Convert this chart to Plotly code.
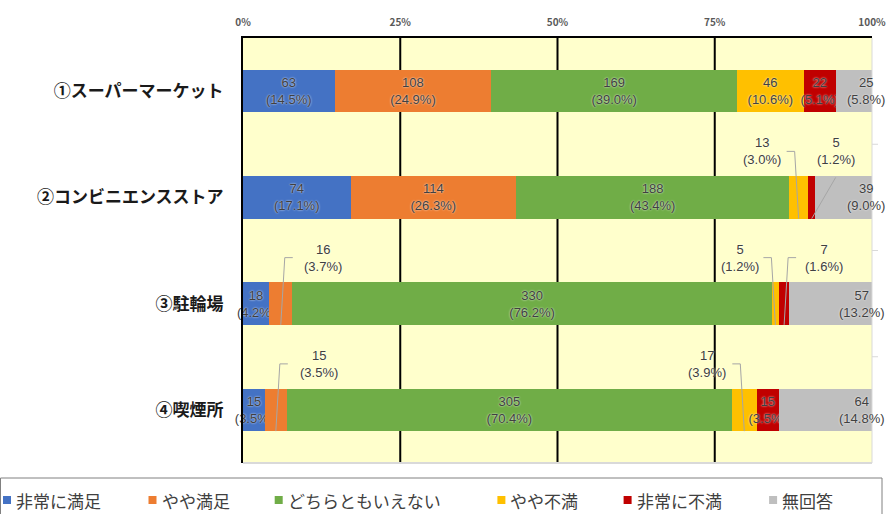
import plotly.graph_objects as go

# ---- data -------------------------------------------------------------
categories = ["①スーパーマーケット", "②コンビニエンスストア", "③駐輪場", "④喫煙所"]
series_names = ["非常に満足", "やや満足", "どちらともいえない", "やや不満", "非常に不満", "無回答"]
colors = ["#4472C4", "#ED7D31", "#70AD47", "#FFC000", "#C00000", "#BFBFBF"]

very_satisfied = [63, 74, 18, 15]
somewhat_satisfied = [108, 114, 16, 15]
neutral = [169, 188, 330, 305]
somewhat_dissatisfied = [46, 13, 5, 17]
very_dissatisfied = [22, 5, 7, 15]
no_answer = [25, 39, 57, 64]

pct_very_satisfied = [14.5, 17.1, 4.2, 3.5]
pct_somewhat_satisfied = [24.9, 26.3, 3.7, 3.5]
pct_neutral = [39.0, 43.4, 76.2, 70.4]
pct_somewhat_dissatisfied = [10.6, 3.0, 1.2, 3.9]
pct_very_dissatisfied = [5.1, 1.2, 1.6, 3.5]
pct_no_answer = [5.8, 9.0, 13.2, 14.8]

tick_vals = [0, 25, 50, 75, 100]
tick_text = ["0%", "25%", "50%", "75%", "100%"]

counts = [very_satisfied, somewhat_satisfied, neutral,
          somewhat_dissatisfied, very_dissatisfied, no_answer]
pcts = [pct_very_satisfied, pct_somewhat_satisfied, pct_neutral,
        pct_somewhat_dissatisfied, pct_very_dissatisfied, pct_no_answer]

# segments whose labels sit above the bar: (row, series, horizontal offset px, leader style)
callouts = [
    (1, 3, -37, "elbow"),
    (1, 4, 24, "diag"),
    (2, 1, 42, "elbow"),
    (2, 3, -35, "elbow"),
    (2, 4, 40, "elbow"),
    (3, 1, 43, "elbow"),
    (3, 3, -37, "elbow"),
]

# ---- geometry ---------------------------------------------------------
W, H = 888, 514
M_L, M_R, M_T, M_B = 243, 16, 38, 51
plot_w = W - M_L - M_R
plot_h = H - M_T - M_B
px_x = plot_w / 100.0               # pixels per percent
px_y = plot_h / len(categories)     # pixels per category
BAR_W = 0.4


def paper_x(px):
    return (px - M_L) / plot_w


def paper_y(py):
    return (H - M_B - py) / plot_h


label_font = dict(family="Liberation Sans, Noto Sans CJK JP",
                  size=13, color="#404040", shadow="0 0 2px #ffffff")

# cumulative shares per row
n_rows = len(categories)
totals = [sum(c[r] for c in counts) for r in range(n_rows)]
starts = [[0.0] * n_rows for _ in counts]
widths = [[0.0] * n_rows for _ in counts]
for r in range(n_rows):
    acc = 0.0
    for s, c in enumerate(counts):
        w = c[r] / totals[r] * 100
        starts[s][r] = acc
        widths[s][r] = w
        acc += w

callout_set = {(r, s) for r, s, _, _ in callouts}
last = len(counts) - 1

fig = go.Figure()
for s, (name, vals, pc, col) in enumerate(zip(series_names, counts, pcts, colors)):
    texts = []
    for r in range(n_rows):
        if (r, s) in callout_set or s == last:
            texts.append("")
        else:
            texts.append(f"{vals[r]}<br>({pc[r]:.1f}%)")
    fig.add_trace(go.Bar(
        y=categories, x=vals, orientation="h", name=name,
        marker=dict(color=col, line=dict(width=0)),
        text=texts, textposition="inside", insidetextanchor="middle",
        constraintext="none", textangle=0, textfont=label_font,
        cliponaxis=False, showlegend=False,
    ))

shapes = []
annotations = []

# vertical grid lines between the outer edges
for v in tick_vals[1:-1]:
    shapes.append(dict(type="line", xref="x", yref="paper", x0=v, x1=v, y0=0, y1=1,
                       line=dict(color="#000000", width=2), layer="below"))

# right and bottom frame in light grey, with ticks at the category boundaries
shapes.append(dict(type="line", xref="paper", yref="paper", x0=1, x1=1, y0=0, y1=1,
                   line=dict(color="#D9D9D9", width=1)))
shapes.append(dict(type="line", xref="paper", yref="paper", x0=0, x1=1, y0=0, y1=0,
                   line=dict(color="#D9D9D9", width=2)))
for b in range(1, n_rows):
    yp = 1 - b / n_rows
    shapes.append(dict(type="line", xref="paper", yref="paper", x0=1, x1=1 + 6 / plot_w,
                       y0=yp, y1=yp, line=dict(color="#D9D9D9", width=1)))

# no-answer labels, right aligned at the end of each bar
for r in range(n_rows):
    annotations.append(dict(
        x=100, y=r, xref="x", yref="y", xanchor="right", yanchor="middle",
        xshift=15, showarrow=False, align="center",
        text=f"{no_answer[r]}<br>({pct_no_answer[r]:.1f}%)", font=label_font))

# callout labels with leader lines
LABEL_RISE = 46  # px above the bar centre
for r, s, off, style in callouts:
    seg_x = starts[s][r] + widths[s][r] / 2
    lab_x = seg_x + off / px_x
    lab_y = r - LABEL_RISE / px_y
    annotations.append(dict(
        x=lab_x, y=lab_y, xref="x", yref="y", xanchor="center", yanchor="middle",
        showarrow=False, align="center",
        text=f"{counts[s][r]}<br>({pcts[s][r]:.1f}%)", font=label_font))
    bottom = r + BAR_W / 2
    sign = 1 if off > 0 else -1
    if style == "elbow":
        x_a = seg_x + sign * 12 / px_x
        x_b = seg_x + sign * 4 / px_x
        path = f"M {x_a},{lab_y} L {x_b},{lab_y} L {seg_x},{bottom}"
    else:
        x_a = lab_x
        y_a = lab_y + 26 / px_y
        path = f"M {x_a},{y_a} L {seg_x},{bottom}"
    shapes.append(dict(type="path", xref="x", yref="y", path=path,
                       line=dict(color="#A6A6A6", width=1)))

# legend row along the bottom, inside a grey frame
LEG_TOP, LEG_MID = 478, 500
CHAR_W, SWATCH, TXT_GAP, ITEM_GAP = 19.3, 8, 3, 38
shapes.append(dict(type="rect", xref="paper", yref="paper",
                   x0=paper_x(0.5), x1=paper_x(882), y0=paper_y(LEG_TOP), y1=paper_y(H + 4),
                   line=dict(color="#808080", width=1), fillcolor="rgba(0,0,0,0)"))
lx = 3.0
for name, col in zip(series_names, colors):
    shapes.append(dict(type="rect", xref="paper", yref="paper",
                       x0=paper_x(lx), x1=paper_x(lx + SWATCH),
                       y0=paper_y(LEG_MID + SWATCH / 2), y1=paper_y(LEG_MID - SWATCH / 2),
                       line=dict(width=0), fillcolor=col))
    annotations.append(dict(
        x=paper_x(lx + SWATCH + TXT_GAP), y=paper_y(LEG_MID), xref="paper", yref="paper",
        xanchor="left", yanchor="middle", showarrow=False, text=name,
        font=dict(size=17, color="#404040", family="Noto Sans CJK JP")))
    lx += SWATCH + TXT_GAP + len(name) * CHAR_W + ITEM_GAP

fig.update_layout(
    width=W, height=H,
    margin=dict(l=M_L, r=M_R, t=M_T, b=M_B, pad=0, autoexpand=False),
    barmode="stack", barnorm="percent", bargap=1 - BAR_W,
    paper_bgcolor="#FFFFFF", plot_bgcolor="#FFFFCC",
    font=dict(family="Noto Sans CJK JP", color="#262626"),
    showlegend=False,
    xaxis=dict(
        range=[0, 100], side="top", tickvals=tick_vals, ticktext=tick_text,
        showgrid=False, zeroline=False, ticks="",
        showline=True, linecolor="#000000", linewidth=2,
        tickfont=dict(size=10, color="#595959", weight="bold"),
        ticklabelstandoff=6, fixedrange=True,
    ),
    yaxis=dict(
        autorange="reversed", showgrid=False, zeroline=False, ticks="",
        showline=True, linecolor="#000000", linewidth=2,
        tickfont=dict(size=17, color="#1A1A1A", weight="bold", family="Noto Sans CJK JP"),
        ticklabelstandoff=14, fixedrange=True,
    ),
    shapes=shapes,
    annotations=annotations,
)

fig.write_html("out.html")
